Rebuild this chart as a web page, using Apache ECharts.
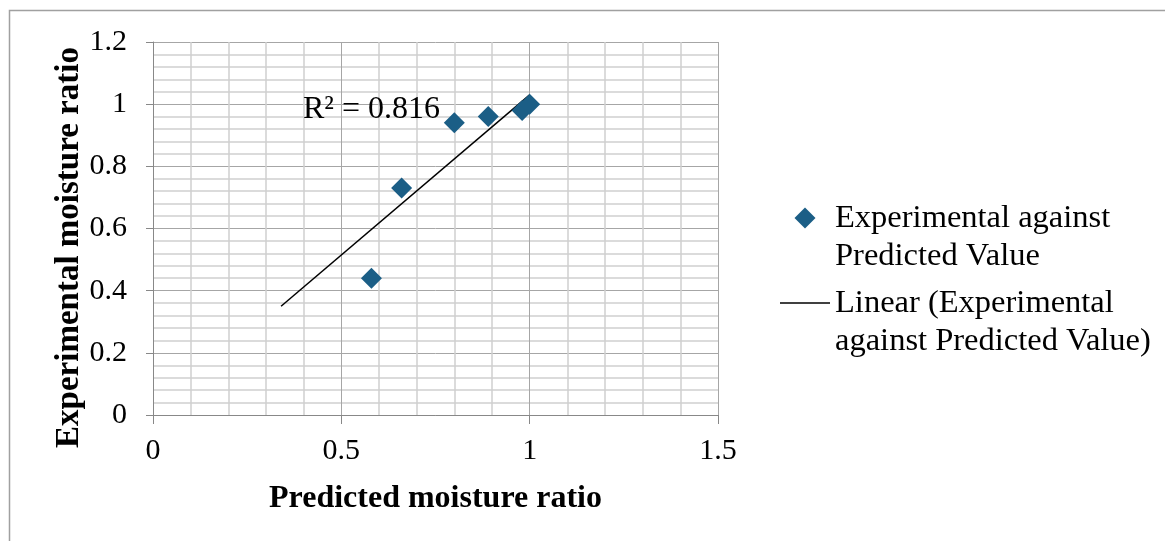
<!DOCTYPE html>
<html>
<head>
<meta charset="utf-8">
<script src="https://cdn.jsdelivr.net/npm/echarts@6/dist/echarts.min.js"></script>
<style>
html,body{margin:0;padding:0;background:#fff;}
#chart{width:1165px;height:541px;}
</style>
</head>
<body>
<div id="chart"></div>
<script>
// Data
const predicted = [0.58, 0.66, 0.80, 0.89, 0.98, 1.00];
const experimental = [0.44, 0.73, 0.94, 0.96, 0.98, 1.00];
// Linear trendline end points (as drawn in the reference)
const trendX = [0.34, 1.00];
const trendY = [0.35, 1.03];
const xTicks = [0, 0.5, 1, 1.5];
const yTicks = [0, 0.2, 0.4, 0.6, 0.8, 1, 1.2];
const r2Label = 'R² = 0.816';
const seriesName = 'Experimental against Predicted Value';
const trendName = 'Linear (Experimental against Predicted Value)';

const FONT = '"Liberation Serif", "Times New Roman", serif';

const chart = echarts.init(document.getElementById('chart'));
const option = {
  backgroundColor: '#fff',
  animation: false,
  textStyle: { fontFamily: FONT },
  grid: { left: 153, top: 42, right: 447, bottom: 126 },
  xAxis: {
    type: 'value',
    min: xTicks[0], max: xTicks[xTicks.length - 1], interval: 0.5,
    name: 'Predicted moisture ratio',
    nameLocation: 'middle', nameGap: 68,
    nameTextStyle: { fontFamily: FONT, fontSize: 32, fontWeight: 'bold', color: '#000' },
    axisLine: { show: true, onZero: false, lineStyle: { color: '#888', width: 1 } },
    axisTick: { show: true, length: 9, lineStyle: { color: '#888' } },
    axisLabel: { fontFamily: FONT, fontSize: 30, color: '#000', margin: 21,
      formatter: v => String(v) },
    splitLine: { show: true, lineStyle: { color: '#a6a6a6', width: 1 } },
    minorTick: { show: false, splitNumber: 5 },
    minorSplitLine: { show: true, lineStyle: { color: '#d0d0d0', width: 1.5 } }
  },
  yAxis: {
    type: 'value',
    min: yTicks[0], max: yTicks[yTicks.length - 1], interval: 0.2,
    name: 'Experimental moisture ratio',
    nameLocation: 'middle', nameGap: 64,
    nameTextStyle: { fontFamily: FONT, fontSize: 33, fontWeight: 'bold', color: '#000',
      padding: [0, 38, 0, 0] },
    axisLine: { show: true, onZero: false, lineStyle: { color: '#888', width: 1 } },
    axisTick: { show: true, length: 7, lineStyle: { color: '#888' } },
    axisLabel: { fontFamily: FONT, fontSize: 30, color: '#000', margin: 26,
      formatter: v => String(Math.round(v * 10) / 10) },
    splitLine: { show: true, lineStyle: { color: '#a6a6a6', width: 1 } },
    minorTick: { show: false, splitNumber: 5 },
    minorSplitLine: { show: true, lineStyle: { color: '#d0d0d0', width: 1.5 } }
  },
  legend: {
    orient: 'vertical',
    left: 780, top: 161,
    padding: 0,
    itemWidth: 50, itemHeight: 21,
    itemGap: -29,
    symbolKeepAspect: true,
    textStyle: { fontFamily: FONT, fontSize: 32.5, color: '#000', lineHeight: 38 },
    formatter: function (name) {
      if (name === seriesName) return ' \nExperimental against\nPredicted Value';
      return ' \nLinear (Experimental\nagainst Predicted Value)';
    },
    data: [
      { name: seriesName, icon: 'path://M0,-1L1,0L0,1L-1,0Z', itemStyle: { color: '#1b5e86' } },
      { name: trendName, icon: 'path://M0,0H50V1.4H0Z', itemStyle: { color: '#000' } }
    ]
  },
  series: [
    {
      name: seriesName,
      type: 'scatter',
      symbol: 'diamond',
      symbolSize: 21,
      itemStyle: { color: '#1b5e86', opacity: 1 },
      data: predicted.map((x, i) => [x, experimental[i]]),
      z: 3
    },
    {
      name: trendName,
      type: 'line',
      symbol: 'none',
      lineStyle: { color: '#000', width: 1.5 },
      itemStyle: { color: '#000' },
      data: trendX.map((x, i) => [x, trendY[i]]),
      z: 2
    }
  ],
  graphic: [
    {
      type: 'rect',
      shape: { x: 9.5, y: 10.5, width: 1300, height: 700 },
      style: { fill: 'none', stroke: '#a0a0a0', lineWidth: 1.5 },
      silent: true, z: -10
    },
    {
      type: 'text',
      left: 303, top: 94,
      style: { text: r2Label, font: '32px ' + FONT, fill: '#000' },
      z: 10
    }
  ]
};
chart.setOption(option);
</script>
</body>
</html>
